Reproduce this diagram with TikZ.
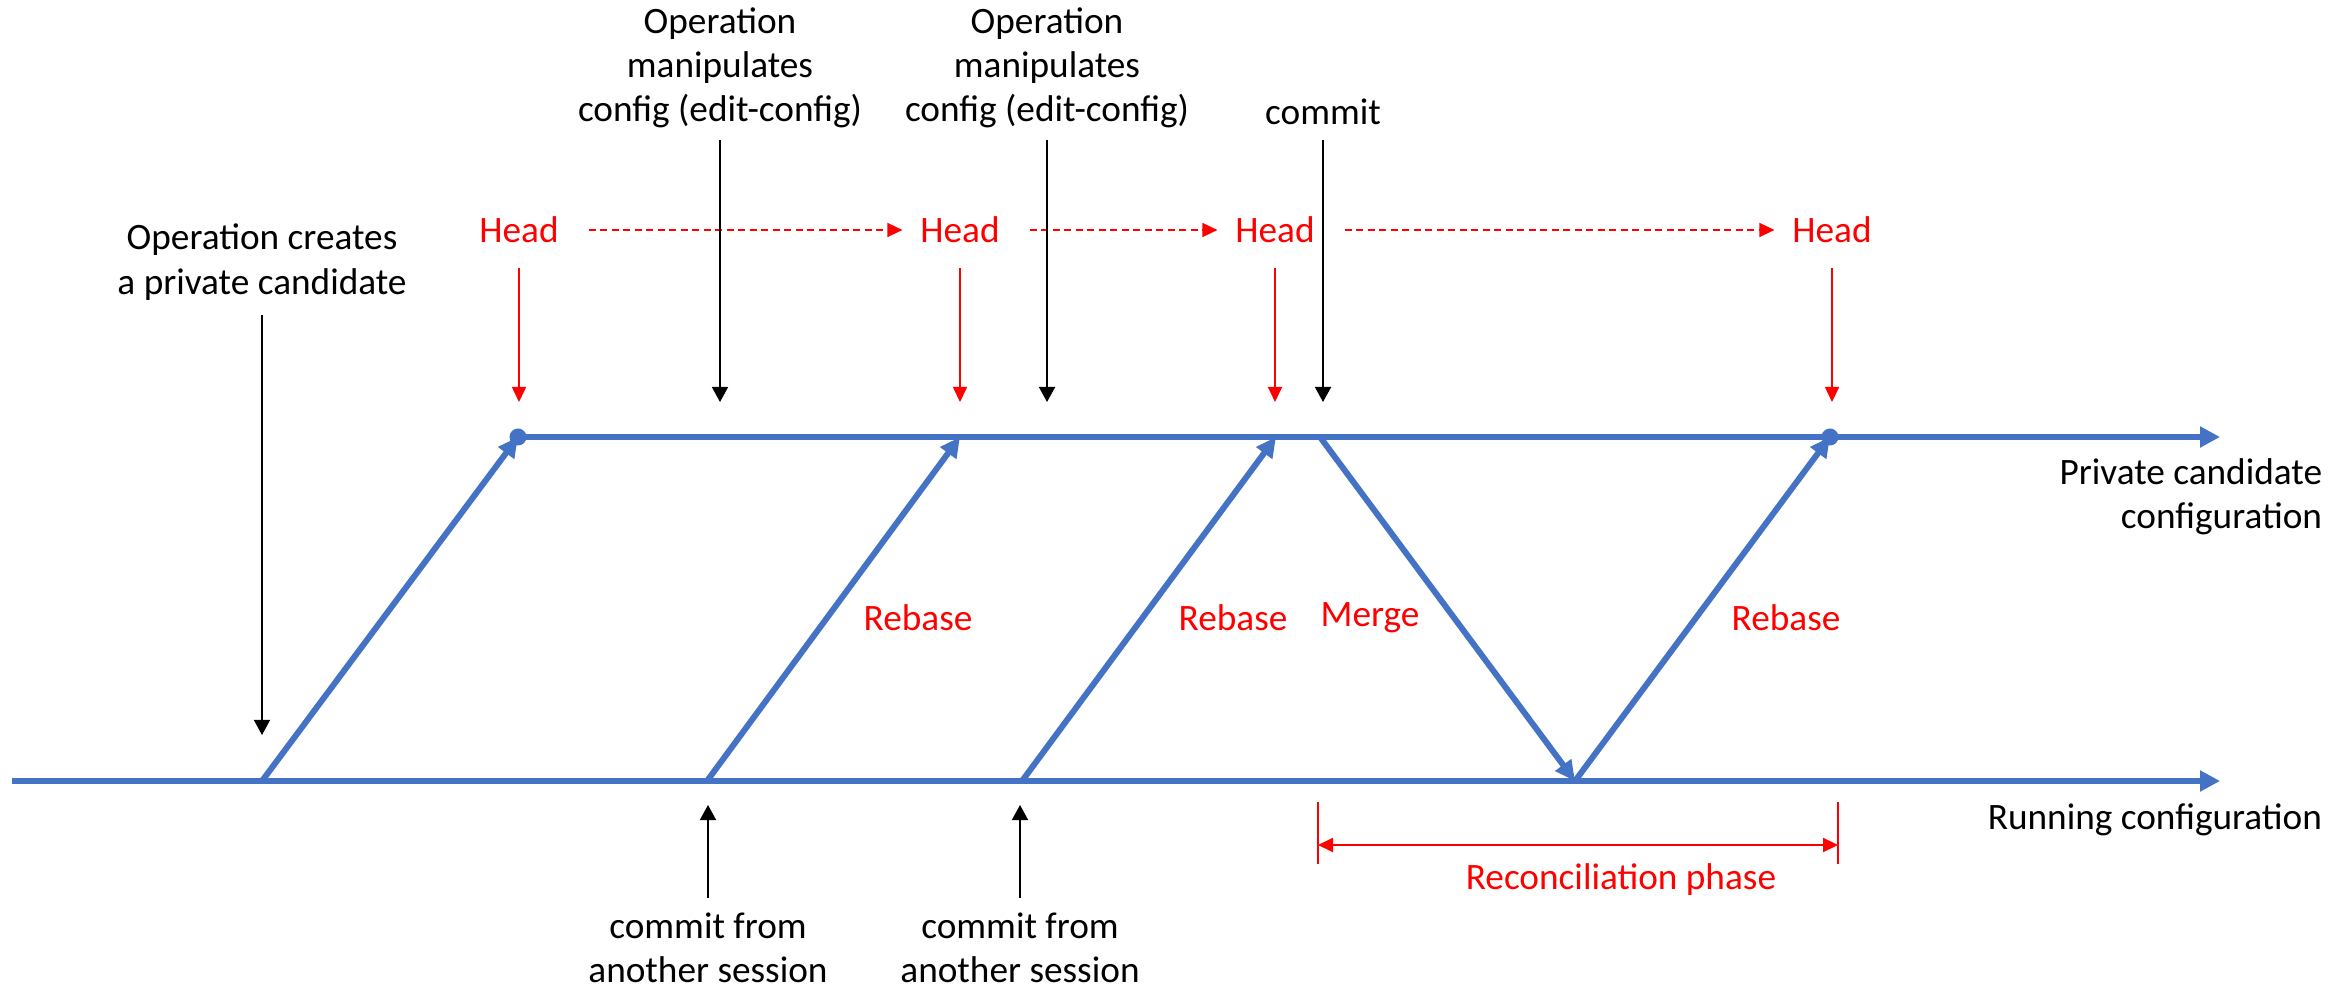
\documentclass[tikz,border=0pt]{standalone}
\usepackage{fontspec}
\setmainfont{Carlito}
\usetikzlibrary{arrows.meta}
\definecolor{cfgblue}{HTML}{4472C4}
\definecolor{hdred}{HTML}{FF0000}

\begin{document}
\begin{tikzpicture}[x=0.01cm,y=-0.01cm,
  lbl/.style={font=\fontsize{10.6}{12.6}\selectfont, align=center, inner sep=0pt, outer sep=0pt},
  redlbl/.style={lbl, text=hdred},
  track/.style={draw=cfgblue, line width=1.7pt, -{Triangle[length=0.2cm,width=0.2cm]}},
  branch/.style={draw=cfgblue, line width=1.7pt, line cap=round, -{Triangle[length=0.2cm,width=0.19cm]}},
  blkarrow/.style={draw=black, line width=0.45pt, -{Triangle[length=0.15cm,width=0.16cm]}},
  headarrow/.style={draw=hdred, line width=0.45pt, -{Triangle[length=0.15cm,width=0.14cm]}},
  moveheads/.style={draw=hdred, line width=0.45pt, dash pattern=on 0.07cm off 0.045cm,
     -{Triangle[length=0.15cm,width=0.14cm]}, shorten <=0.3cm, shorten >=0.18cm},
  dotmark/.style={circle, fill=cfgblue, inner sep=0pt, minimum size=0.17cm}
]
\useasboundingbox (0,0) rectangle (2352,992);

% points on the two configuration lines
\coordinate (runStart) at (12,781);
\coordinate (runEnd)   at (2220,781);
\coordinate (r1) at (262,781);
\coordinate (r2) at (707,781);
\coordinate (r3) at (1022,781);
\coordinate (r4) at (1575,781);
\coordinate (c1) at (518,437);
\coordinate (c2) at (960,437);
\coordinate (c3) at (1276,437);
\coordinate (cm) at (1320,437);
\coordinate (c4) at (1830,437);
\coordinate (candEnd) at (2220,437);

% configuration timelines
\draw[track] (runStart) -- (runEnd);
\draw[track] (c1) -- (candEnd);

% create, rebase and merge transitions
\draw[branch] (r1) -- (c1);
\draw[branch] (r2) -- (c2);
\draw[branch] (r3) -- (c3);
\draw[branch] (cm) -- (r4);
\draw[branch] (r4) -- (c4);
\node[dotmark] (dot1) at (c1) {};
\node[dotmark] (dot2) at (c4) {};

% line names
\node[lbl, align=right, anchor=east] (candName) at (2322,497) {Private candidate\\configuration};
\node[lbl, anchor=east] (runName) at (2322,820) {Running configuration};

% transition labels
\node[redlbl] (rb1) at (918,618) {Rebase};
\node[redlbl] (rb2) at (1233,618) {Rebase};
\node[redlbl] (mg)  at (1370,618) {Merge};
\node[redlbl] (rb3) at (1786,618) {Rebase};

% head markers
\node[redlbl] (h1) at (519,230) {Head};
\node[redlbl] (h2) at (960,230) {Head};
\node[redlbl] (h3) at (1275,230) {Head};
\node[redlbl] (h4) at (1832,230) {Head};
\coordinate (h1tip) at (519,402);
\coordinate (h2tip) at (960,402);
\coordinate (h3tip) at (1275,402);
\coordinate (h4tip) at (1832,402);
\draw[headarrow, shorten <=0.25cm] (h1.south) -- (h1tip);
\draw[headarrow, shorten <=0.25cm] (h2.south) -- (h2tip);
\draw[headarrow, shorten <=0.25cm] (h3.south) -- (h3tip);
\draw[headarrow, shorten <=0.25cm] (h4.south) -- (h4tip);
\draw[moveheads] (h1.east) -- (h2.west);
\draw[moveheads] (h2.east) -- (h3.west);
\draw[moveheads] (h3.east) -- (h4.west);

% operations on the private candidate
\node[lbl] (create) at (262,262) {Operation creates\\a private candidate};
\coordinate (createTip) at (262,735);
\draw[blkarrow, shorten <=0.15cm] (create.south) -- (createTip);

\node[lbl] (edit1) at (720,68) {Operation\\manipulates\\config (edit-config)};
\coordinate (edit1Tip) at (720,402);
\draw[blkarrow, shorten <=0.12cm] (edit1.south) -- (edit1Tip);

\node[lbl] (edit2) at (1047,68) {Operation\\manipulates\\config (edit-config)};
\coordinate (edit2Tip) at (1047,402);
\draw[blkarrow, shorten <=0.12cm] (edit2.south) -- (edit2Tip);

\node[lbl] (commit) at (1323,112) {commit};
\coordinate (commitTip) at (1323,402);
\draw[blkarrow, shorten <=0.15cm] (commit.south) -- (commitTip);

% commits coming from other sessions
\node[lbl] (other1) at (708,948) {commit from\\another session};
\coordinate (other1Tip) at (708,805);
\draw[blkarrow, shorten <=0.15cm] (other1.north) -- (other1Tip);

\node[lbl] (other2) at (1020,948) {commit from\\another session};
\coordinate (other2Tip) at (1020,805);
\draw[blkarrow, shorten <=0.15cm] (other2.north) -- (other2Tip);

% reconciliation phase span
\coordinate (recA) at (1318,802);
\coordinate (recB) at (1318,864);
\coordinate (recC) at (1838,802);
\coordinate (recD) at (1838,864);
\draw[hdred, line width=0.45pt] (recA) -- (recB);
\draw[hdred, line width=0.45pt] (recC) -- (recD);
\coordinate (recL) at (1318,845);
\coordinate (recR) at (1838,845);
\draw[hdred, line width=0.6pt, {Triangle[length=0.15cm,width=0.14cm]}-{Triangle[length=0.15cm,width=0.14cm]}] (recL) -- (recR);
\node[redlbl] (recName) at (1621,880) {Reconciliation phase};

\end{tikzpicture}
\end{document}
